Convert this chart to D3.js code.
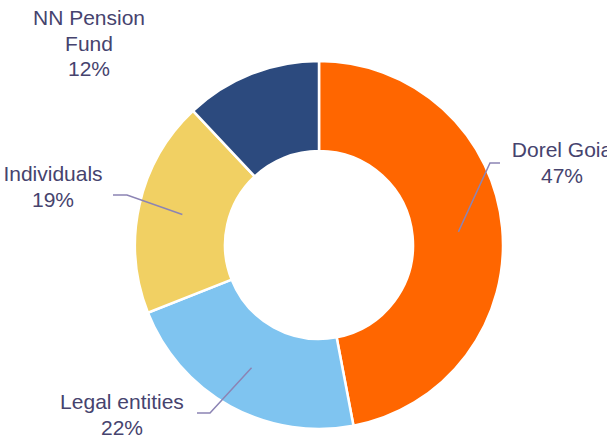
<!DOCTYPE html>
<html>
<head>
<meta charset="utf-8">
<script src="https://cdn.jsdelivr.net/npm/d3@7"></script>
<style>
  html, body { margin: 0; padding: 0; background: #fff; }
  text { font-family: "Liberation Sans", Arial, sans-serif; }
</style>
</head>
<body>
<div id="chart"></div>
<script>
const width = 607;
const height = 438;

// data
const owners = ["Dorel Goia", "Legal entities", "Individuals", "NN Pension Fund"];
const shares = [47, 22, 19, 12];
const colors = ["#ff6600", "#7fc4f0", "#f1d063", "#2c4a7e"];

// label placement (text anchor point, elbow of leader line, end of leader)
const labelLayout = [
  { lines: ["Dorel Goia"], tx: 562, ty: 157, elbow: [490, 163], end: [500, 163] },
  { lines: ["Legal entities"], tx: 122, ty: 409, elbow: [210, 413], end: [197, 413] },
  { lines: ["Individuals"], tx: 53, ty: 181, elbow: [127, 195], end: [113, 195] },
  { lines: ["NN Pension", "Fund"], tx: 89, ty: 25, elbow: null, end: null }
];

const cx = 319, cy = 245;
const outerR = 184, innerR = 94;

const svg = d3.select("#chart").append("svg")
  .attr("width", width)
  .attr("height", height);

const g = svg.append("g").attr("transform", `translate(${cx},${cy})`);

const pie = d3.pie().sort(null).value(d => d.value);
const arcs = pie(owners.map((name, i) => ({ name, value: shares[i], color: colors[i] })));

const arc = d3.arc().innerRadius(innerR).outerRadius(outerR);
const midArc = d3.arc().innerRadius(innerR + 46).outerRadius(innerR + 46);

// slices
g.selectAll("path.slice")
  .data(arcs)
  .enter().append("path")
  .attr("class", "slice")
  .attr("d", arc)
  .attr("fill", d => d.data.color)
  .attr("stroke", "#fff")
  .attr("stroke-width", 2.5);

// leader lines
arcs.forEach((d, i) => {
  const lay = labelLayout[i];
  if (!lay.elbow) return;
  const c = midArc.centroid(d);
  const pts = [[cx + c[0], cy + c[1]], lay.elbow, lay.end];
  svg.append("path")
    .attr("d", d3.line()(pts))
    .attr("fill", "none")
    .attr("stroke", "#8c84b4")
    .attr("stroke-width", 1.5);
});

// labels
arcs.forEach((d, i) => {
  const lay = labelLayout[i];
  const t = svg.append("text")
    .attr("text-anchor", "middle")
    .attr("font-size", 21)
    .attr("fill", "#46436e");
  const lines = lay.lines.concat([d.data.value + "%"]);
  lines.forEach((ln, j) => {
    t.append("tspan")
      .attr("x", lay.tx)
      .attr("y", lay.ty + j * 25.5)
      .text(ln);
  });
});
</script>
</body>
</html>
